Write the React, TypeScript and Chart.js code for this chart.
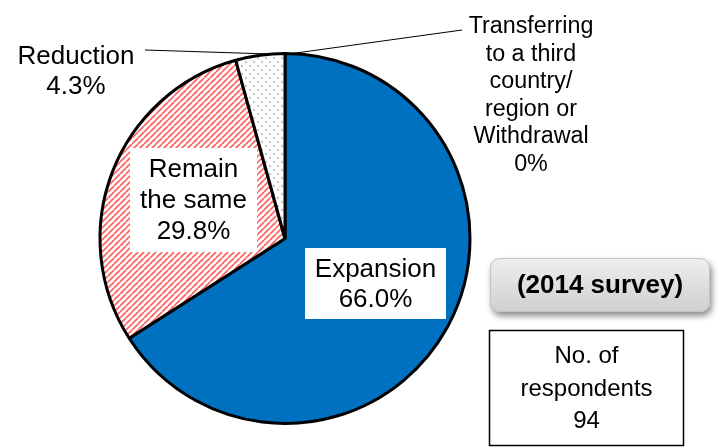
import React, { useEffect, useRef } from "react";
import { Chart, registerables } from "chart.js";

Chart.register(...registerables);

const categories: string[][] = [
  ["Expansion"],
  ["Remain", "the same"],
  ["Reduction"],
  ["Transferring", "to a third", "country/", "region or", "Withdrawal"],
];
const shares: number[] = [66.0, 29.8, 4.3, 0];
const surveyLabel = "(2014 survey)";
const respondentsLines = ["No. of", "respondents"];
const respondents = 94;

const FONT = '"Liberation Sans", Arial, sans-serif';

function pctText(v: number) {
  return v === 0 ? "0%" : v.toFixed(1) + "%";
}

function makeHatch(): CanvasPattern | string {
  const c = document.createElement("canvas");
  c.width = 6;
  c.height = 6;
  const g = c.getContext("2d")!;
  g.fillStyle = "#ffffff";
  g.fillRect(0, 0, 6, 6);
  g.strokeStyle = "rgba(255,30,30,0.7)";
  g.lineWidth = 1.7;
  for (const o of [-6, 0, 6]) {
    g.beginPath();
    g.moveTo(o, 6);
    g.lineTo(o + 6, 0);
    g.stroke();
  }
  return g.createPattern(c, "repeat") || "#f88";
}

function makeDots(): CanvasPattern | string {
  const c = document.createElement("canvas");
  c.width = 8;
  c.height = 8;
  const g = c.getContext("2d")!;
  g.fillStyle = "#ffffff";
  g.fillRect(0, 0, 8, 8);
  g.fillStyle = "rgba(150,150,150,0.55)";
  g.beginPath();
  g.arc(2, 2, 1.2, 0, Math.PI * 2);
  g.fill();
  g.beginPath();
  g.arc(6, 6, 1.2, 0, Math.PI * 2);
  g.fill();
  return g.createPattern(c, "repeat") || "#ddd";
}

// label layout (offsets relative to pie centre), styles
const labelLayout = [
  { dx: 90.5, dy: 45, size: 26, lh: 30, box: { w: 141, h: 71 } },
  { dx: -91.5, dy: -38.5, size: 26, lh: 31, box: { w: 127, h: 104 } },
  { dx: -209, dy: -168, size: 26, lh: 30, box: null },
  { dx: 246, dy: -144, size: 23.3, lh: 27.6, box: null },
];

const annotationPlugin = {
  id: "annotations",
  afterDraw(chart: any) {
    const ctx: CanvasRenderingContext2D = chart.ctx;
    const arc = chart.getDatasetMeta(0).data[0];
    if (!arc) return;
    const { x: cx, y: cy, outerRadius: r } = arc.getProps(["x", "y", "outerRadius"], true);
    const topX = cx;
    const topY = cy - r;

    ctx.save();
    // leader lines
    ctx.strokeStyle = "#000";
    ctx.lineWidth = 1;
    ctx.beginPath();
    ctx.moveTo(cx - 140, cy - 188.5);
    ctx.lineTo(topX, topY + 1);
    ctx.stroke();
    ctx.beginPath();
    ctx.moveTo(cx + 177, cy - 208.5);
    ctx.lineTo(topX, topY + 1);
    ctx.stroke();

    ctx.textAlign = "center";
    ctx.textBaseline = "middle";
    categories.forEach((lines, i) => {
      const L = labelLayout[i];
      const all = [...lines, pctText(shares[i])];
      const x = cx + L.dx;
      const y = cy + L.dy;
      if (L.box) {
        ctx.fillStyle = "#ffffff";
        ctx.fillRect(x - L.box.w / 2, y - L.box.h / 2, L.box.w, L.box.h);
      }
      ctx.fillStyle = "#000";
      ctx.font = `${L.size}px ${FONT}`;
      const total = all.length * L.lh;
      all.forEach((t, k) => {
        ctx.fillText(t, x, y - total / 2 + L.lh * (k + 0.5) + 1);
      });
    });

    // survey box
    const bx = 490, by = 258, bw = 220, bh = 54;
    ctx.save();
    ctx.shadowColor = "rgba(0,0,0,0.45)";
    ctx.shadowBlur = 6;
    ctx.shadowOffsetX = 2;
    ctx.shadowOffsetY = 4;
    const grad = ctx.createLinearGradient(0, by, 0, by + bh);
    grad.addColorStop(0, "#efefef");
    grad.addColorStop(1, "#cfcfcf");
    ctx.fillStyle = grad;
    ctx.beginPath();
    (ctx as any).roundRect(bx, by, bw, bh, 9);
    ctx.fill();
    ctx.restore();
    ctx.strokeStyle = "#c4c4c4";
    ctx.lineWidth = 1;
    ctx.beginPath();
    (ctx as any).roundRect(bx + 0.5, by + 0.5, bw - 1, bh - 1, 9);
    ctx.stroke();
    ctx.fillStyle = "#000";
    ctx.font = `bold 26px ${FONT}`;
    ctx.fillText(surveyLabel, bx + bw / 2, by + bh / 2 + 1);

    // respondents box
    const rx = 489.5, ry = 330.5, rw = 194, rh = 115;
    ctx.fillStyle = "#fff";
    ctx.fillRect(rx, ry, rw, rh);
    ctx.strokeStyle = "#000";
    ctx.lineWidth = 1.5;
    ctx.strokeRect(rx, ry, rw, rh);
    ctx.fillStyle = "#000";
    ctx.font = `24px ${FONT}`;
    const rl = [...respondentsLines, String(respondents)];
    rl.forEach((t, k) => {
      ctx.fillText(t, rx + rw / 2, ry + 26 + k * 32.5);
    });
    ctx.restore();
  },
};

export default function App() {
  const ref = useRef<HTMLCanvasElement>(null);
  useEffect(() => {
    if (!ref.current) return;
    const chart = new Chart(ref.current, {
      type: "pie",
      data: {
        labels: categories.map((l) => l.join(" ")),
        datasets: [
          {
            data: shares,
            backgroundColor: ["#0070C0", makeHatch(), makeDots(), "#ffffff"],
            borderColor: "#000000",
            borderWidth: 3,
            radius: 185,
          } as any,
        ],
      },
      options: {
        animation: false,
        responsive: false,
        devicePixelRatio: 1,
        events: [],
        layout: { padding: { left: 0, right: 151, top: 30, bottom: 0 } },
        plugins: {
          legend: { display: false },
          tooltip: { enabled: false },
        },
      },
      plugins: [annotationPlugin],
    });
    return () => chart.destroy();
  }, []);
  return (
    <div style={{ position: "fixed", left: 0, top: 0, width: 721, height: 447, background: "#fff" }}>
      <canvas ref={ref} width={721} height={447} style={{ display: "block" }} />
    </div>
  );
}
